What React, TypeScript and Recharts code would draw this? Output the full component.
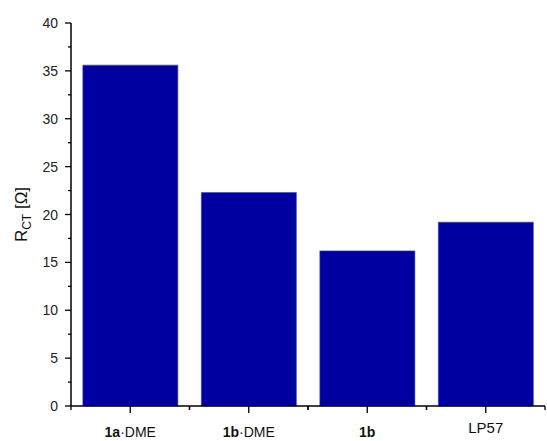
import { BarChart, Bar, XAxis, YAxis } from "recharts";

const categories = ["1a·DME", "1b·DME", "1b", "LP57"];
const boldParts = ["1a", "1b", "1b", ""];
const restParts = ["·DME", "·DME", "", "LP57"];
const rct = [35.6, 22.3, 16.2, 19.2];
const yTicks = [0, 2.5, 5, 7.5, 10, 12.5, 15, 17.5, 20, 22.5, 25, 27.5, 30, 32.5, 35, 37.5, 40];

const data = categories.map((c, i) => ({ name: c, rct: rct[i] }));

const W = 547;
const H = 441;
const M = { top: 23, right: 2, bottom: 0, left: 0 };
const X_H = 35;
const Y_W = 71;
const BAND = (W - M.left - M.right - Y_W) / categories.length;
const FONT = "'Liberation Sans', Arial, sans-serif";

function YTick(props: any) {
  const { x, y, payload } = props;
  const v = payload.value as number;
  const major = v % 5 === 0;
  return (
    <g>
      <line x1={x - (major ? 6 : 3)} x2={x} y1={y} y2={y} stroke="#000" strokeWidth={1.3} />
      {major && (
        <text x={x - 13} y={y} dy={5} textAnchor="end" fontSize={14} fill="#222" fontFamily={FONT}>
          {v}
        </text>
      )}
    </g>
  );
}

function XTick(props: any) {
  const { x, y, index } = props;
  const lp = boldParts[index] === "";
  return (
    <g>
      <line x1={x} x2={x} y1={y} y2={y + 7} stroke="#000" strokeWidth={1.3} />
      <line x1={x - BAND / 2} x2={x - BAND / 2} y1={y} y2={y + 4} stroke="#000" strokeWidth={1.3} />
      <line x1={x + BAND / 2} x2={x + BAND / 2} y1={y} y2={y + 4} stroke="#000" strokeWidth={1.3} />
      <text
        x={x}
        y={y + (lp ? 27 : 31)}
        textAnchor="middle"
        fontSize={lp ? 15 : 14}
        fill="#111"
        fontFamily={FONT}
      >
        <tspan fontWeight="bold">{boldParts[index]}</tspan>
        <tspan>{restParts[index]}</tspan>
      </text>
    </g>
  );
}

function YLabel(props: any) {
  const vb = props.viewBox;
  const cx = 27;
  const cy = vb.y + vb.height / 2;
  return (
    <text
      x={cx}
      y={cy}
      transform={`rotate(-90 ${cx} ${cy})`}
      textAnchor="middle"
      fontSize={17}
      fill="#111"
      fontFamily={FONT}
    >
      <tspan>R</tspan>
      <tspan fontSize={12} dy={4}>CT</tspan>
      <tspan dy={-4}> [Ω]</tspan>
    </text>
  );
}

export default function App() {
  return (
    <div style={{ position: "absolute", left: 0, top: 0, background: "#fff" }}>
      <BarChart width={W} height={H} data={data} margin={M} barCategoryGap="10%">
        <XAxis
          dataKey="name"
          interval={0}
          tickLine={false}
          tickSize={0}
          tickMargin={0}
          tick={<XTick />}
          axisLine={{ stroke: "#000", strokeWidth: 1.5 }}
          height={X_H}
        />
        <YAxis
          width={Y_W}
          domain={[0, 40]}
          ticks={yTicks}
          interval={0}
          tickLine={false}
          tickSize={0}
          tickMargin={0}
          tick={<YTick />}
          axisLine={{ stroke: "#000", strokeWidth: 1.5 }}
          label={<YLabel />}
        />
        <Bar dataKey="rct" fill="#0000a0" stroke="#3a3ab8" strokeWidth={0.6} isAnimationActive={false} />
      </BarChart>
    </div>
  );
}
